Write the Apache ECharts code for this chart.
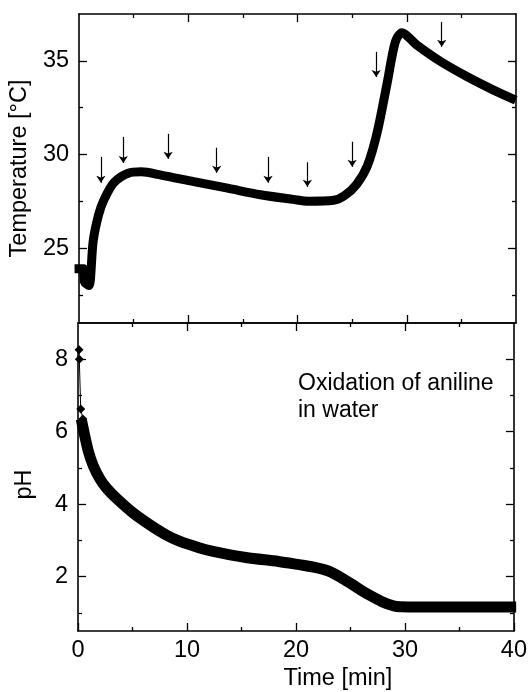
<!DOCTYPE html>
<html>
<head>
<meta charset="utf-8">
<script src="https://cdn.jsdelivr.net/npm/echarts@6/dist/echarts.min.js"></script>
<style>
  html, body { margin: 0; padding: 0; background: #fff; }
  #chart { width: 530px; height: 692px; }
</style>
</head>
<body>
<div id="chart"></div>
<script>
// temperature trace (top panel)
const tempTime = [0, 0.4, 0.5, 0.9, 1.3, 1.8, 2.3, 3.2, 4.5, 5.7, 7.5, 10.5, 13.6, 16.6, 19.6, 21, 23.3, 24.3, 25.4, 26.4, 27.3, 28.2, 28.95, 29.55, 30.9, 33.1, 35.5, 37.9, 39.6]
const tempValue = [23.9, 23.9, 23.2, 23.0, 25.4, 26.8, 27.6, 28.5, 29.0, 29.07, 28.9, 28.55, 28.2, 27.85, 27.6, 27.5, 27.55, 27.8, 28.4, 29.4, 31.2, 33.8, 36.0, 36.5, 35.85, 34.96, 34.16, 33.45, 33.0]

// arrows marking additions
const arrowTime = [2.0, 4.05, 8.15, 12.6, 17.3, 20.9, 25.0, 27.2, 33.2]
const arrowTop = [29.87, 30.94, 31.1, 30.36, 29.87, 29.58, 30.68, 35.48, 37.08]
const arrowTip = [28.49, 29.55, 29.77, 29.02, 28.49, 28.27, 29.34, 34.14, 35.75]

// pH trace (bottom panel)
const phStartTime = [0.1, 0.12, 0.25, 0.45, 0.4]
const phStartValue = [8.26, 8.0, 6.63, 6.35, 6.12]
const phTime = [0.4, 0.94, 1.4, 2.0, 2.6, 3.5, 5.05, 6.6, 8.1, 9.3, 11.1, 12.4, 15.4, 18.4, 20.3, 21.5, 23, 24.5, 25.75, 26.4, 27.9, 29.0, 29.6, 33, 36, 39.7]
const phValue = [6.2, 5.47, 5.06, 4.7, 4.45, 4.17, 3.76, 3.43, 3.15, 2.98, 2.8, 2.7, 2.53, 2.42, 2.33, 2.27, 2.15, 1.91, 1.67, 1.55, 1.31, 1.19, 1.17, 1.16, 1.16, 1.16]

// axis ticks and labels
const timeLabels = [0, 10, 20, 30, 40]
const timeMajor = [10, 20, 30]
const timeMinor = [5, 15, 25, 35]
const tempLabels = [25, 30, 35]
const tempMinor = [22.5, 27.5, 32.5]
const phLabels = [2, 4, 6, 8]
const phMinor = [1, 3, 5, 7]

const FONT = 'Liberation Sans, Arial, sans-serif'
const BLACK = '#000'
const SIZE = 23.5

const zip = (xs, ys) => xs.map((x, i) => [x, ys[i]])

// one axis: frame line + inward ticks, labels optional
const makeAxis = (gridIndex, position, min, max, ticks, len, opts = {}) => ({
  type: 'value',
  gridIndex,
  position,
  min,
  max,
  axisLine: { show: opts.line !== false, onZero: false, lineStyle: { color: BLACK, width: 1.6 } },
  axisTick: { show: true, inside: true, length: len, customValues: ticks, lineStyle: { color: BLACK, width: 1.3 } },
  axisLabel: opts.labels
    ? { show: true, customValues: opts.labels, color: BLACK, fontSize: SIZE, fontFamily: FONT, margin: opts.margin }
    : { show: false },
  splitLine: { show: false },
  ...(opts.extra || {})
})

const xAxes = []
const yAxes = []

const panel = (g, yMin, yMax, yMajor, yMinor, yLabels, yName, xLabels) => {
  const xMajorTicks = xLabels ? timeLabels : timeMajor
  xAxes.push(
    makeAxis(g, 'bottom', 0, 40, xMajorTicks, 8, xLabels ? {
      labels: xLabels,
      margin: 8,
      extra: {
        name: 'Time [min]',
        nameLocation: 'middle',
        nameGap: 36,
        nameTextStyle: { color: BLACK, fontSize: SIZE, fontFamily: FONT, padding: [0, 0, 0, 84] }
      }
    } : {}),
    makeAxis(g, 'top', 0, 40, timeMajor, 8),
    makeAxis(g, 'bottom', 0, 40, timeMinor, 4, { line: false }),
    makeAxis(g, 'top', 0, 40, timeMinor, 4, { line: false })
  )
  yAxes.push(
    makeAxis(g, 'left', yMin, yMax, yMajor, 8, {
      labels: yLabels,
      margin: 10,
      extra: {
        name: yName.text,
        nameLocation: 'middle',
        nameGap: 41,
        nameTextStyle: { color: BLACK, fontSize: SIZE, fontFamily: FONT, padding: yName.padding }
      }
    }),
    makeAxis(g, 'right', yMin, yMax, yMajor, 8),
    makeAxis(g, 'left', yMin, yMax, yMinor, 4, { line: false }),
    makeAxis(g, 'right', yMin, yMax, yMinor, 4, { line: false })
  )
}

panel(0, 21, 37.5, tempLabels, tempMinor, tempLabels, { text: 'Temperature [°C]', padding: 0 }, null)
panel(1, 0.5, 9, phLabels, phMinor, phLabels, { text: 'pH', padding: [0, 15, 0, 0] }, timeLabels)

const chart = echarts.init(document.getElementById('chart'), null, { renderer: 'canvas' })

chart.setOption({
  animation: false,
  backgroundColor: '#fff',
  grid: [
    { left: 78, right: 14, top: 14, height: 309 },
    { left: 78, right: 14, top: 323, height: 309 }
  ],
  xAxis: xAxes,
  yAxis: yAxes,
  graphic: [
    {
      type: 'text',
      left: 298,
      top: 370,
      style: {
        text: 'Oxidation of aniline\nin water',
        fill: BLACK,
        font: '23px ' + FONT,
        lineHeight: 27
      }
    }
  ],
  series: [
    {
      type: 'line',
      xAxisIndex: 0,
      yAxisIndex: 0,
      data: zip(tempTime, tempValue),
      showSymbol: false,
      smooth: 0.3,
      clip: false,
      lineStyle: { color: BLACK, width: 9, join: 'round', cap: 'square' },
      markLine: {
        silent: true,
        symbol: ['none', 'arrow'],
        symbolSize: 7,
        label: { show: false },
        lineStyle: { color: BLACK, width: 1.2, type: 'solid' },
        data: arrowTime.map((t, i) => [{ coord: [t, arrowTop[i]] }, { coord: [t, arrowTip[i]] }])
      }
    },
    {
      type: 'line',
      xAxisIndex: 4,
      yAxisIndex: 4,
      data: zip(phStartTime, phStartValue),
      symbol: 'diamond',
      symbolSize: 9,
      clip: false,
      itemStyle: { color: BLACK },
      lineStyle: { color: BLACK, width: 1 }
    },
    {
      type: 'line',
      xAxisIndex: 4,
      yAxisIndex: 4,
      data: zip(phTime, phValue),
      showSymbol: false,
      smooth: 0.3,
      clip: false,
      lineStyle: { color: BLACK, width: 11, join: 'round', cap: 'square' }
    }
  ]
})
</script>
</body>
</html>
